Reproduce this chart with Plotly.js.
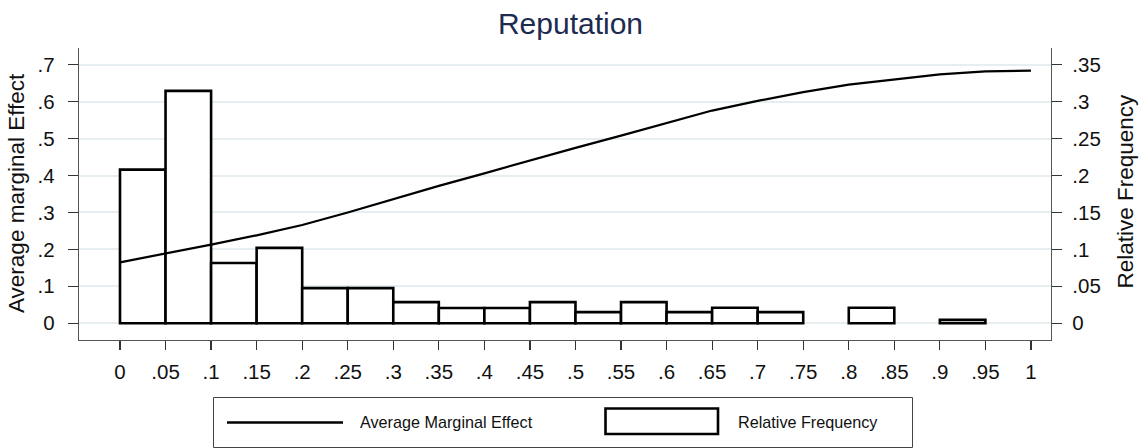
<!DOCTYPE html>
<html><head><meta charset="utf-8">
<script src="https://cdn.plot.ly/plotly-3.0.1.min.js"></script>
<style>html,body{margin:0;padding:0;background:#fff;} #chart{width:1141px;height:448px;}</style>
</head><body><div id="chart"></div>
<script>
const chartTitle = "Reputation";
const leftAxisTitle = "Average marginal Effect";
const rightAxisTitle = "Relative Frequency";
const lineName = "Average Marginal Effect";
const barName = "Relative Frequency";

const xTickVals = [0,0.05,0.1,0.15,0.2,0.25,0.3,0.35,0.4,0.45,0.5,0.55,0.6,0.65,0.7,0.75,0.8,0.85,0.9,0.95,1];
const xTickText = ["0",".05",".1",".15",".2",".25",".3",".35",".4",".45",".5",".55",".6",".65",".7",".75",".8",".85",".9",".95","1"];
const yLeftTickVals = [0,0.1,0.2,0.3,0.4,0.5,0.6,0.7];
const yLeftTickText = ["0",".1",".2",".3",".4",".5",".6",".7"];
const yRightTickVals = [0,0.05,0.1,0.15,0.2,0.25,0.3,0.35];
const yRightTickText = ["0",".05",".1",".15",".2",".25",".3",".35"];

// Average marginal effect (left axis)
const effectX = [0,0.05,0.1,0.15,0.2,0.25,0.3,0.35,0.4,0.45,0.5,0.55,0.6,0.65,0.7,0.75,0.8,0.85,0.9,0.95,1];
const effectY = [0.165,0.188,0.213,0.238,0.266,0.300,0.337,0.372,0.406,0.441,0.475,0.508,0.541,0.576,0.602,0.626,0.646,0.661,0.674,0.682,0.684];

// Relative frequency histogram (right axis), bin width 0.05
const binCenters = [0.025,0.075,0.125,0.175,0.225,0.275,0.325,0.375,0.425,0.475,0.525,0.575,0.625,0.675,0.725,0.825,0.925];
const binFreq = [0.208,0.3146,0.0816,0.102,0.0476,0.0476,0.0286,0.0206,0.0206,0.0286,0.015,0.0286,0.015,0.021,0.015,0.021,0.0045];
const binWidth = 0.05;

const fontFam = '"Liberation Sans", Arial, Helvetica, sans-serif';
const tickFont = {family: fontFam, size: 20.5, color: '#111'};

const W = 1141, H = 448;
const M = {l: 79, r: 90, t: 48, b: 108};
const PW = W - M.l - M.r, PH = H - M.t - M.b;
const px = v => (v - M.l) / PW;
const py = v => (H - M.b - v) / PH;

const traces = [
  {type: 'bar', x: binCenters, y: binFreq, width: binWidth, yaxis: 'y', xaxis: 'x',
   marker: {color: '#ffffff', line: {color: '#000', width: 2.6}}, showlegend: false, hoverinfo: 'x+y'},
  {type: 'scatter', mode: 'lines', x: effectX, y: effectY, yaxis: 'y2', xaxis: 'x',
   line: {color: '#000', width: 2.2}, showlegend: false}
];

const layout = {
  width: W, height: H,
  margin: M,
  paper_bgcolor: '#fff', plot_bgcolor: '#fff',
  showlegend: false,
  bargap: 0,
  title: {text: chartTitle, x: 0.5, xref: 'container', xanchor: 'center',
          y: 1 - 23/H, yref: 'container', yanchor: 'middle',
          font: {family: fontFam, size: 30, color: '#1d2b4f'}},
  xaxis: {range: [-0.045, 1.022], tickvals: xTickVals, ticktext: xTickText,
          showgrid: false, zeroline: false, showline: true, linecolor: '#555', linewidth: 1.2,
          ticks: 'outside', ticklen: 9, tickcolor: '#333', tickwidth: 1.2,
          tickfont: tickFont, ticklabelstandoff: 4},
  yaxis: {side: 'right', range: [-0.0227, 0.3727], tickvals: yRightTickVals, ticktext: yRightTickText,
          showgrid: true, gridcolor: '#e6eef1', gridwidth: 2, zeroline: false,
          showline: true, linecolor: '#555', linewidth: 1.2,
          ticks: 'outside', ticklen: 10, tickcolor: '#333', tickwidth: 1.2,
          tickfont: tickFont, ticklabelstandoff: 6},
  yaxis2: {side: 'left', overlaying: 'y', range: [-0.0454, 0.7454], tickvals: yLeftTickVals, ticktext: yLeftTickText,
           showgrid: false, zeroline: false,
           showline: true, linecolor: '#555', linewidth: 1.2,
           ticks: 'outside', ticklen: 10, tickcolor: '#333', tickwidth: 1.2,
           tickfont: tickFont, ticklabelstandoff: 9},
  annotations: [
    {text: leftAxisTitle, xref: 'paper', yref: 'paper', x: px(16), y: py(193), textangle: -90,
     showarrow: false, xanchor: 'center', yanchor: 'middle', font: {family: fontFam, size: 22.5, color: '#111'}},
    {text: rightAxisTitle, xref: 'paper', yref: 'paper', x: px(1125), y: py(191.5), textangle: -90,
     showarrow: false, xanchor: 'center', yanchor: 'middle', font: {family: fontFam, size: 22.5, color: '#111'}},
    {text: lineName, xref: 'paper', yref: 'paper', x: px(358), y: py(422), showarrow: false,
     xanchor: 'left', yanchor: 'middle', font: {family: fontFam, size: 16.2, color: '#111'}},
    {text: barName, xref: 'paper', yref: 'paper', x: px(736), y: py(422), showarrow: false,
     xanchor: 'left', yanchor: 'middle', font: {family: fontFam, size: 16.2, color: '#111'}}
  ],
  shapes: [
    {type: 'rect', xref: 'paper', yref: 'paper', x0: px(213.5), x1: px(912.5), y0: py(397.5), y1: py(447.5),
     line: {color: '#444', width: 1}, fillcolor: 'rgba(0,0,0,0)'},
    {type: 'line', xref: 'paper', yref: 'paper', x0: px(227), x1: px(343), y0: py(422.5), y1: py(422.5),
     line: {color: '#000', width: 2.6}},
    {type: 'rect', xref: 'paper', yref: 'paper', x0: px(605.5), x1: px(718), y0: py(408.5), y1: py(434),
     line: {color: '#000', width: 2.6}, fillcolor: '#fff'}
  ]
};

Plotly.newPlot('chart', traces, layout, {displayModeBar: false, staticPlot: true});
</script>
</body></html>
